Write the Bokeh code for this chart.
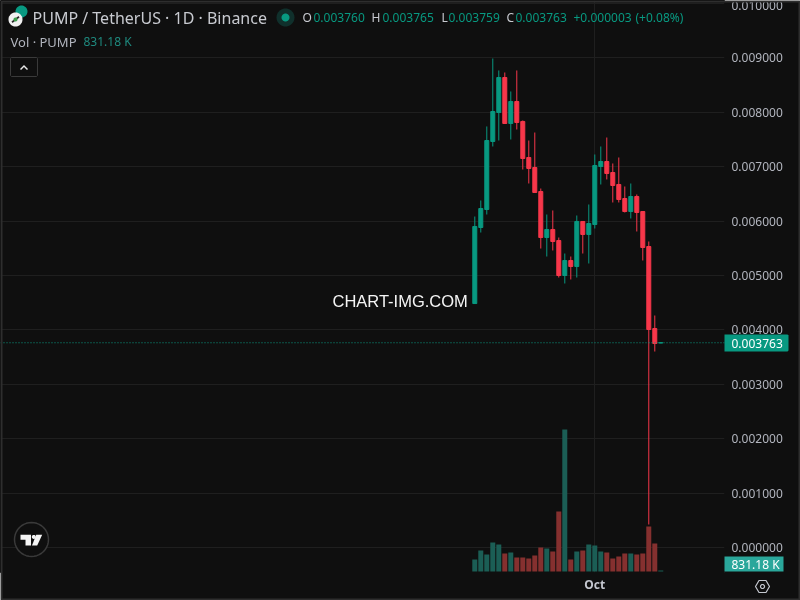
import numpy as np
from bokeh.plotting import figure
from bokeh.models import (ColumnDataSource, Range1d, LinearAxis, FixedTicker, NumeralTickFormatter,
                          Label, Span, PolyAnnotation)
from bokeh.embed import file_html
from bokeh.resources import INLINE

# values in thousandths of USDT (x 1e-3)
opens  = [4.484,5.881,6.212,7.462,7.995,8.638,7.793,8.197,7.830,7.168,6.984,6.543,5.697,5.845,5.642,4.999,
          5.275,5.164,5.992,5.753,5.936,7.002,7.094,6.892,6.672,6.414,6.175,6.451,6.175,5.532,4.025,3.760]
highs  = [6.083,6.378,7.738,8.987,8.767,8.730,8.381,8.767,7.848,7.480,7.627,6.598,6.120,6.194,5.697,5.403,
          5.348,6.102,5.992,6.304,7.223,7.370,7.535,7.058,7.168,6.635,6.690,6.488,6.175,5.624,4.264,3.765]
lows   = [4.484,5.789,6.120,7.370,7.480,7.793,7.499,7.682,6.947,6.690,6.525,5.495,5.348,5.459,4.962,4.852,
          4.926,4.962,5.403,5.220,5.863,6.672,6.764,6.341,6.341,6.157,6.047,5.808,5.275,0.423,3.602,3.759]
closes = [5.900,6.230,7.480,8.013,8.638,7.793,8.197,7.811,7.149,6.966,6.525,5.697,5.845,5.624,4.999,5.275,
          5.164,5.992,5.753,5.955,7.021,7.094,6.874,6.653,6.396,6.175,6.451,6.157,5.514,4.007,3.749,3.763]
# volume, millions of PUMP
volumes = [10.2,17.9,14.5,24.7,23.0,15.3,16.2,11.9,11.9,11.1,13.6,20.4,19.6,17.0,51.0,120.7,
           10.2,17.0,17.9,23.0,22.1,17.0,16.2,11.1,12.8,15.3,15.3,14.5,15.3,38.3,23.8,0.83]
price_ticks = [0.000,0.001,0.002,0.003,0.004,0.005,0.006,0.007,0.008,0.009,0.010]
last_price = 0.003763
oct_index = 20

BG, GRID = "#0f0f0f", "#1f1f1f"
UP, DOWN = "#089981", "#f7374a"
VUP, VDOWN = "#1b5e55", "#85302f"
TXT = "#b2b5be"
CANVAS_H = 600

p = figure(width=800, height=600, output_backend="svg", toolbar_location=None,
           x_axis_location=None, y_axis_location=None,
           x_range=Range1d(-79.05, 41.62), y_range=Range1d(-0.000459, 0.010053),
           background_fill_color=BG, border_fill_color=BG,
           min_border_left=0, min_border_top=0, min_border_right=76, min_border_bottom=28)
p.outline_line_color = BG
p.styles = {"position": "fixed", "left": "0px", "top": "0px"}
p.extra_y_ranges = {"vol": Range1d(-0.85, 485.35)}

ax = LinearAxis(ticker=FixedTicker(ticks=price_ticks),
                formatter=NumeralTickFormatter(format="0.000000"))
ax.axis_line_color = None
ax.major_tick_line_color = None
ax.minor_tick_line_color = None
ax.major_tick_out = 0
ax.major_tick_in = 0
ax.major_label_text_color = TXT
ax.major_label_text_font = "Noto Sans"
ax.major_label_text_font_size = "12px"
ax.major_label_standoff = 7
p.add_layout(ax, "right")

bx = LinearAxis(ticker=FixedTicker(ticks=[oct_index]), major_label_overrides={oct_index: "Oct"})
bx.axis_line_color = None
bx.major_tick_line_color = None
bx.minor_tick_line_color = None
bx.major_tick_out = 0
bx.major_tick_in = 0
bx.major_label_text_color = "#c4c7cf"
bx.major_label_text_font = "Noto Sans"
bx.major_label_text_font_style = "bold"
bx.major_label_text_font_size = "12px"
bx.major_label_standoff = 3
p.add_layout(bx, "below")

p.ygrid.ticker = FixedTicker(ticks=price_ticks)
p.ygrid.grid_line_color = GRID
p.xgrid.ticker = FixedTicker(ticks=[oct_index])
p.xgrid.grid_line_color = GRID

o, h, l, c, vol = map(np.array, (opens, highs, lows, closes, volumes))
idx = np.arange(len(o))
up = c >= o
src = ColumnDataSource(dict(x=idx, top=np.maximum(o, c) * 1e-3, bottom=np.minimum(o, c) * 1e-3,
                            high=h * 1e-3, low=l * 1e-3, vol=vol,
                            color=[UP if u else DOWN for u in up],
                            vcolor=[VUP if u else VDOWN for u in up]))

p.vbar(x="x", top="vol", bottom=0, width=5/6, fill_color="vcolor", line_color=None, source=src, y_range_name="vol")
p.segment(x0="x", x1="x", y0="low", y1="high", line_color="color", line_width=1, source=src)
p.vbar(x="x", top="top", bottom="bottom", width=4/6, fill_color="color", line_color="color", line_width=1, source=src)

p.add_layout(Span(location=last_price, dimension="width", line_color=UP, line_width=1, line_dash="1 2"))

# transparent overlay for header, tags and icons: its frame spans the whole canvas
q = figure(width=800, height=600, output_backend="svg", toolbar_location=None,
           x_axis_location=None, y_axis_location=None,
           x_range=Range1d(0, 800), y_range=Range1d(600, 0),
           background_fill_alpha=0, border_fill_alpha=0, outline_line_color=None,
           min_border_left=0, min_border_top=0, min_border_right=0, min_border_bottom=0)
q.styles = {"position": "fixed", "left": "0px", "top": "0px", "background": "transparent"}
q.grid.visible = False


def lab(x, y, text, color=TXT, size=13, font="Noto Sans", **kw):
    q.add_layout(Label(x=x, y=CANVAS_H - y, x_units="screen", y_units="screen", text=text,
                       text_color=color, text_font_size=f"{size}px", text_font=font,
                       text_baseline="middle", **kw))


def poly(xs, ys, fill=None, line=None, lw=1):
    q.add_layout(PolyAnnotation(xs=list(xs), ys=[CANVAS_H - y for y in ys], xs_units="screen", ys_units="screen",
                                fill_color=fill, fill_alpha=1 if fill else 0,
                                line_color=line, line_width=lw, line_alpha=1 if line else 0))


def circ(cx, cy, r, fill=None, line=None, lw=1):
    t = np.linspace(0, 2 * np.pi, 41)[:-1]
    poly(cx + r * np.cos(t), cy + r * np.sin(t), fill, line, lw)


# page border
poly([1, 799, 799, 1], [1, 1, 599, 599], line="#2e2e2e", lw=2)

# header
circ(21, 11, 6, fill="#089981")
circ(15, 19, 7, fill="#f0f0f0")
poly([11, 18, 19, 12], [21, 15.5, 17, 22.5], fill="#2a2a2a")
circ(15, 19, 2, fill="#3a9d4a")
lab(32, 17, "PUMP / TetherUS · 1D · Binance", "#c8cad0", 16)
circ(285, 17, 9, fill="#10302c")
circ(285, 17, 4, fill="#089981")
for x, t in ((302, "O"), (371, "H"), (441, "L"), (506, "C")):
    lab(x, 17, t, "#c8cad0", 12)
for x, t in ((313, "0.003760"), (382, "0.003765"), (448, "0.003759"), (515, "0.003763"),
             (573, "+0.000003"), (635, "(+0.08%)")):
    lab(x, 17, t, UP, 12)
lab(10, 41, "Vol · PUMP", "#b2b5be", 13)
lab(83, 41, "831.18 K", "#1f8a7f", 12)

# collapse button
poly([11, 36, 37, 37, 36, 11, 10, 10], [57, 57, 58, 75, 76, 76, 75, 58], line="#3a3a3a")
poly([19.5, 23.5, 27.5, 26.5, 23.5, 20.5], [68.5, 64.5, 68.5, 69.5, 66.5, 69.5], fill="#e8e8e8")

# watermark
lab(332, 300, "CHART-IMG.COM", "#f5f5f5", 16.5, "Liberation Sans")

# logo
circ(31, 539, 17, fill=BG, line="#3a3a3a", lw=1.5)
poly([20, 30.5, 30.5, 25, 25, 20], [534.3, 534.3, 545, 545, 539.3, 539.3], fill="#f5f5f5")
poly([35.7, 41.7, 36.7, 31.5], [534.3, 534.3, 545, 545], fill="#f5f5f5")
circ(33.3, 536.4, 2, fill="#f5f5f5")

# price and volume tags
poly([724, 787, 788, 788, 787, 724], [334, 334, 335, 350, 351, 351], fill=UP)
lab(731, 342.5, "0.003763", "#ffffff", 12)
poly([724, 783, 783, 724], [556, 556, 571, 571], fill="#2aa79b")
lab(731, 563.5, "831.18 K", "#ffffff", 12)

# settings
poly([755, 758.5, 765.5, 769, 765.5, 758.5], [586, 580, 580, 586, 592, 592], line="#c4c7cf", lw=1.2)
circ(762, 586, 2, line="#c4c7cf", lw=1.2)

open("out.html", "w").write(file_html([p, q], INLINE))
